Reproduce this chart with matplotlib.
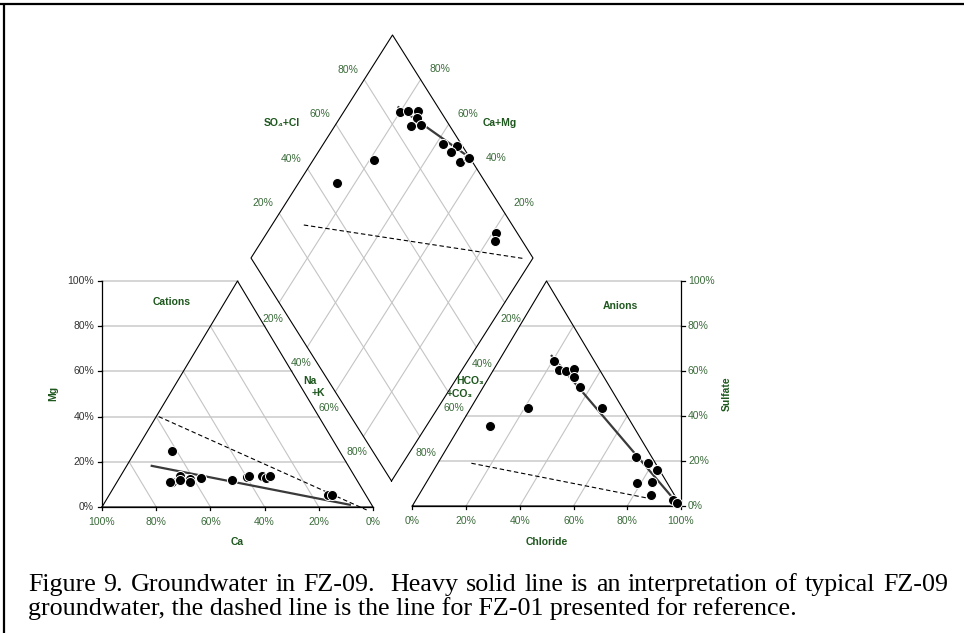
import re

import numpy as np
import matplotlib
matplotlib.use("Agg")
import matplotlib.pyplot as plt

plt.rcParams["font.family"] = ["Liberation Sans", "DejaVu Sans"]

# ---------------------------------------------------------------------------
# Data (percent of meq)
# ---------------------------------------------------------------------------

# cation triangle samples
cat_ca = [61.6, 68.7, 64.5, 65.4, 61.4, 61.8, 57.0, 45.9, 40.0, 38.8,
          34.2, 33.1, 31.3, 13.8, 12.6, 69.3]
cat_mg = [24.8, 11.1, 13.8, 11.9, 12.2, 11.2, 13.0, 11.9, 13.1, 13.7,
          13.7, 12.7, 13.7, 5.3, 5.3, 11.2]

# anion triangle samples
an_cl = [20.5, 24.4, 27.1, 29.7, 31.6, 36.1, 48.9, 21.5, 11.2, 72.3,
         78.2, 83.1, 78.5, 83.8, 86.2, 95.8, 97.9]
an_so4 = [64.6, 60.4, 60.0, 61.0, 57.5, 53.0, 43.6, 43.4, 35.4, 21.6,
          18.9, 15.8, 10.4, 10.8, 5.1, 2.7, 1.5]

# diamond samples
dia_so4cl = [85.6, 88.6, 91.9, 89.9, 86.5, 89.9, 93.4, 98.1, 94.6, 95.6,
             99.5, 99.8, 65.4, 47.4, 92.5, 90.1]
dia_camg = [80.0, 77.4, 74.0, 72.7, 72.9, 69.7, 57.6, 52.3, 53.1, 47.5,
            45.5, 45.0, 78.4, 86.3, 18.6, 17.4]

# interpretation lines: FZ-09 (heavy solid) and FZ-01 (dashed)
fz09_cat_ca, fz09_cat_mg = [72.9, 7.7], [18.3, 0.9]
fz01_cat_ca, fz01_cat_mg = [59.1, 3.0], [40.0, -1.3]
fz09_an_cl, fz09_an_so4 = [18.1, 99.0], [67.1, 0.4]
fz01_an_cl, fz01_an_so4 = [12.5, 88.2], [19.0, 3.0]
fz09_dia_so4cl, fz09_dia_camg = [85.8, 100.0], [82.1, 45.0]
fz01_dia_so4cl, fz01_dia_camg = [26.1, 96.4], [88.7, 3.4]

ticks = [0, 20, 40, 60, 80, 100]
inner = [20, 40, 60, 80]

caption1 = ("Figure 9. Groundwater in FZ-09.  Heavy solid line is an "
            "interpretation of typical FZ-09")
caption2 = ("groundwater, the dashed line is the line for FZ-01 presented "
            "for reference.")

# ---------------------------------------------------------------------------
# Layout of the diagram in pixel units
# ---------------------------------------------------------------------------
W, H = 964, 633
CAT_L, CAT_R, CAT_T = (102.0, 507.0), (373.0, 507.0), (237.5, 281.0)
AN_L, AN_R, AN_T = (412.3, 506.0), (681.0, 506.0), (546.5, 281.0)
DIA_B, DIA_L, DIA_R = (391.5, 481.0), (251.0, 258.0), (533.0, 258.0)
DIA_T = (DIA_L[0] + DIA_R[0] - DIA_B[0], DIA_L[1] + DIA_R[1] - DIA_B[1])

TICK_C = "#3b6b3b"
TITLE_C = "#1e571e"
GRID_C = "#c4c4c4"
HGRID_C = "#d2d2d2"


def tern(L, R, T, left, top):
    left = np.asarray(left, float)
    top = np.asarray(top, float)
    right = 1 - left - top
    x = L[0] * left + R[0] * right + T[0] * top
    y = L[1] * left + R[1] * right + T[1] * top
    return x, y


def cat_xy(ca, mg):
    return tern(CAT_L, CAT_R, CAT_T, np.asarray(ca) / 100, np.asarray(mg) / 100)


def an_xy(cl, so4):
    cl = np.asarray(cl) / 100
    so4 = np.asarray(so4) / 100
    return tern(AN_L, AN_R, AN_T, 1 - cl - so4, so4)


def dia_xy(a, c):
    a = np.asarray(a, float) / 100
    c = np.asarray(c, float) / 100
    x = DIA_B[0] + a * (DIA_R[0] - DIA_B[0]) + c * (DIA_L[0] - DIA_B[0])
    y = DIA_B[1] + a * (DIA_R[1] - DIA_B[1]) + c * (DIA_L[1] - DIA_B[1])
    return x, y


fig = plt.figure(figsize=(W / 100, H / 100), dpi=100)
ax = fig.add_axes([0, 0, 1, 1])
ax.set_xlim(0, W)
ax.set_ylim(H, 0)
ax.axis("off")

# ---- gridlines ----
for v in inner + [100]:
    x, y = cat_xy([0, 0], [v, v])
    ax.plot([CAT_L[0], x[0]], [y[0], y[0]], color=HGRID_C, lw=1.3, zorder=1)
    x, y = an_xy([0, 0], [v, v])
    ax.plot([x[0], AN_R[0]], [y[0], y[0]], color=HGRID_C, lw=1.3, zorder=1)
for v in inner:
    x, y = cat_xy([v, v], [0, 100 - v])
    ax.plot(x, y, color=GRID_C, lw=0.8, zorder=1)
    x, y = an_xy([v, v], [0, 100 - v])
    ax.plot(x, y, color=GRID_C, lw=0.8, zorder=1)
    x, y = dia_xy([v, v], [0, 100])
    ax.plot(x, y, color=GRID_C, lw=0.8, zorder=1)
    x, y = dia_xy([0, 100], [v, v])
    ax.plot(x, y, color=GRID_C, lw=0.8, zorder=1)

# ---- outlines ----
for pts in ([CAT_L, CAT_R, CAT_T, CAT_L], [AN_L, AN_R, AN_T, AN_L],
            [DIA_B, DIA_R, DIA_T, DIA_L, DIA_B]):
    ax.plot([p[0] for p in pts], [p[1] for p in pts], color="black",
            lw=0.8, zorder=2)

# ---- axes with ticks ----
ax.plot([CAT_L[0], CAT_L[0]], [CAT_L[1], CAT_T[1]], color="black", lw=0.9)
ax.plot([CAT_L[0], CAT_R[0]], [CAT_L[1], CAT_L[1]], color="black", lw=0.9)
ax.plot([AN_R[0], AN_R[0]], [AN_R[1], AN_T[1]], color="black", lw=0.9)
ax.plot([AN_L[0], AN_R[0]], [AN_L[1], AN_L[1]], color="black", lw=0.9)
for t in ticks:
    y = CAT_L[1] - t / 100 * (CAT_L[1] - CAT_T[1])
    ax.plot([CAT_L[0] - 4, CAT_L[0]], [y, y], color="black", lw=0.9)
    ax.text(CAT_L[0] - 8, y, f"{t}%", ha="right", va="center",
            fontsize=7.5, color="#333333")
    x = CAT_R[0] - t / 100 * (CAT_R[0] - CAT_L[0])
    ax.plot([x, x], [CAT_L[1], CAT_L[1] + 3], color="black", lw=0.9)
    ax.text(x, CAT_L[1] + 15, f"{t}%", ha="center", va="center",
            fontsize=7.5, color=TICK_C)

    y = AN_R[1] - t / 100 * (AN_R[1] - AN_T[1])
    ax.plot([AN_R[0], AN_R[0] + 4], [y, y], color="black", lw=0.9)
    ax.text(AN_R[0] + 7, y, f"{t}%", ha="left", va="center",
            fontsize=7.5, color=TICK_C)
    x = AN_L[0] + t / 100 * (AN_R[0] - AN_L[0])
    ax.plot([x, x], [AN_L[1], AN_L[1] + 3], color="black", lw=0.9)
    ax.text(x, AN_L[1] + 15.5, f"{t}%", ha="center", va="center",
            fontsize=7.5, color=TICK_C)

# diamond edge tick labels
for v in inner:
    f = v / 100
    lx = DIA_L[0] + f * (DIA_T[0] - DIA_L[0]) - 16
    ly = DIA_L[1] + f * (DIA_T[1] - DIA_L[1]) - 10
    ax.text(lx, ly, f"{v}%", ha="center", va="center", fontsize=7.5, color=TICK_C)
    lx = DIA_R[0] + f * (DIA_T[0] - DIA_R[0]) + 19
    ly = DIA_R[1] + f * (DIA_T[1] - DIA_R[1]) - 10.5
    ax.text(lx, ly, f"{v}%", ha="center", va="center", fontsize=7.5, color=TICK_C)
    lx = DIA_L[0] + f * (DIA_B[0] - DIA_L[0]) - 6
    ly = DIA_L[1] + f * (DIA_B[1] - DIA_L[1]) + 16
    ax.text(lx, ly, f"{v}%", ha="center", va="center", fontsize=7.5, color=TICK_C)
    lx = DIA_R[0] + f * (DIA_B[0] - DIA_R[0]) + 6
    ly = DIA_R[1] + f * (DIA_B[1] - DIA_R[1]) + 16.5
    ax.text(lx, ly, f"{v}%", ha="center", va="center", fontsize=7.5, color=TICK_C)

# ---- titles ----
bold = dict(fontsize=7.5, fontweight="bold", color=TITLE_C, ha="center", va="center")
ax.text(171.7, 302.3, "Cations", **bold)
ax.text(620, 306, "Anions", **bold)
ax.text(53.3, 393.3, "Mg", rotation=90, **bold)
ax.text(726.7, 393.3, "Sulfate", rotation=90, **bold)
ax.text(237, 542, "Ca", **bold)
ax.text(546.7, 542, "Chloride", **bold)
ax.text(281.7, 123.3, "SO\u2084+Cl", **bold)
ax.text(499.3, 123.3, "Ca+Mg", **bold)
ax.text(310, 380.7, "Na", **bold)
ax.text(318.3, 393.3, "+K", **bold)
ax.text(470, 380.7, "HCO\u2083", **bold)
ax.text(460, 394, "+CO\u2083", **bold)

# ---- interpretation lines ----
heavy = dict(color="#3a3a3a", lw=1.6, solid_capstyle="butt", zorder=3)
dash = dict(color="black", lw=0.8, linestyle=(0, (4, 2.5)), zorder=3)
ax.plot(*cat_xy(fz09_cat_ca, fz09_cat_mg), **heavy)
ax.plot(*cat_xy(fz01_cat_ca, fz01_cat_mg), **dash)
ax.plot(*an_xy(fz09_an_cl, fz09_an_so4), **heavy)
ax.plot(*an_xy(fz01_an_cl, fz01_an_so4), **dash)
ax.plot(*dia_xy(fz09_dia_so4cl, fz09_dia_camg), **heavy)
ax.plot(*dia_xy(fz01_dia_so4cl, fz01_dia_camg), **dash)

# ---- samples ----
dots = dict(s=52, c="black", edgecolors="white", linewidths=0.7, zorder=4)
ax.scatter(*cat_xy(cat_ca, cat_mg), **dots)
ax.scatter(*an_xy(an_cl, an_so4), **dots)
ax.scatter(*dia_xy(dia_so4cl, dia_camg), **dots)

# ---- frame ----
ax.plot([0, W], [4, 4], color="black", lw=1.6, solid_capstyle="butt")
ax.plot([4, 4], [4, H], color="black", lw=1.6, solid_capstyle="butt")

# ---- caption (first line justified) ----
cap = dict(fontsize=18.7, family=["Liberation Serif", "DejaVu Serif"],
           color="black", va="baseline", ha="left")
renderer = fig.canvas.get_renderer()
parts = re.split(r"( +)", caption1)
words = parts[0::2]
gaps = [len(g) for g in parts[1::2]]
texts, widths = [], []
for wd in words:
    t = ax.text(0, 591, wd, **cap)
    texts.append(t)
    widths.append(t.get_window_extent(renderer).width)
x0, x1 = 28, 948
unit = (x1 - x0 - sum(widths)) / sum(gaps)
x = x0
for i, t in enumerate(texts):
    t.set_x(x)
    x += widths[i]
    if i < len(gaps):
        x += gaps[i] * unit
ax.text(x0, 615, caption2, **cap)

fig.savefig("out.png", dpi=100)
